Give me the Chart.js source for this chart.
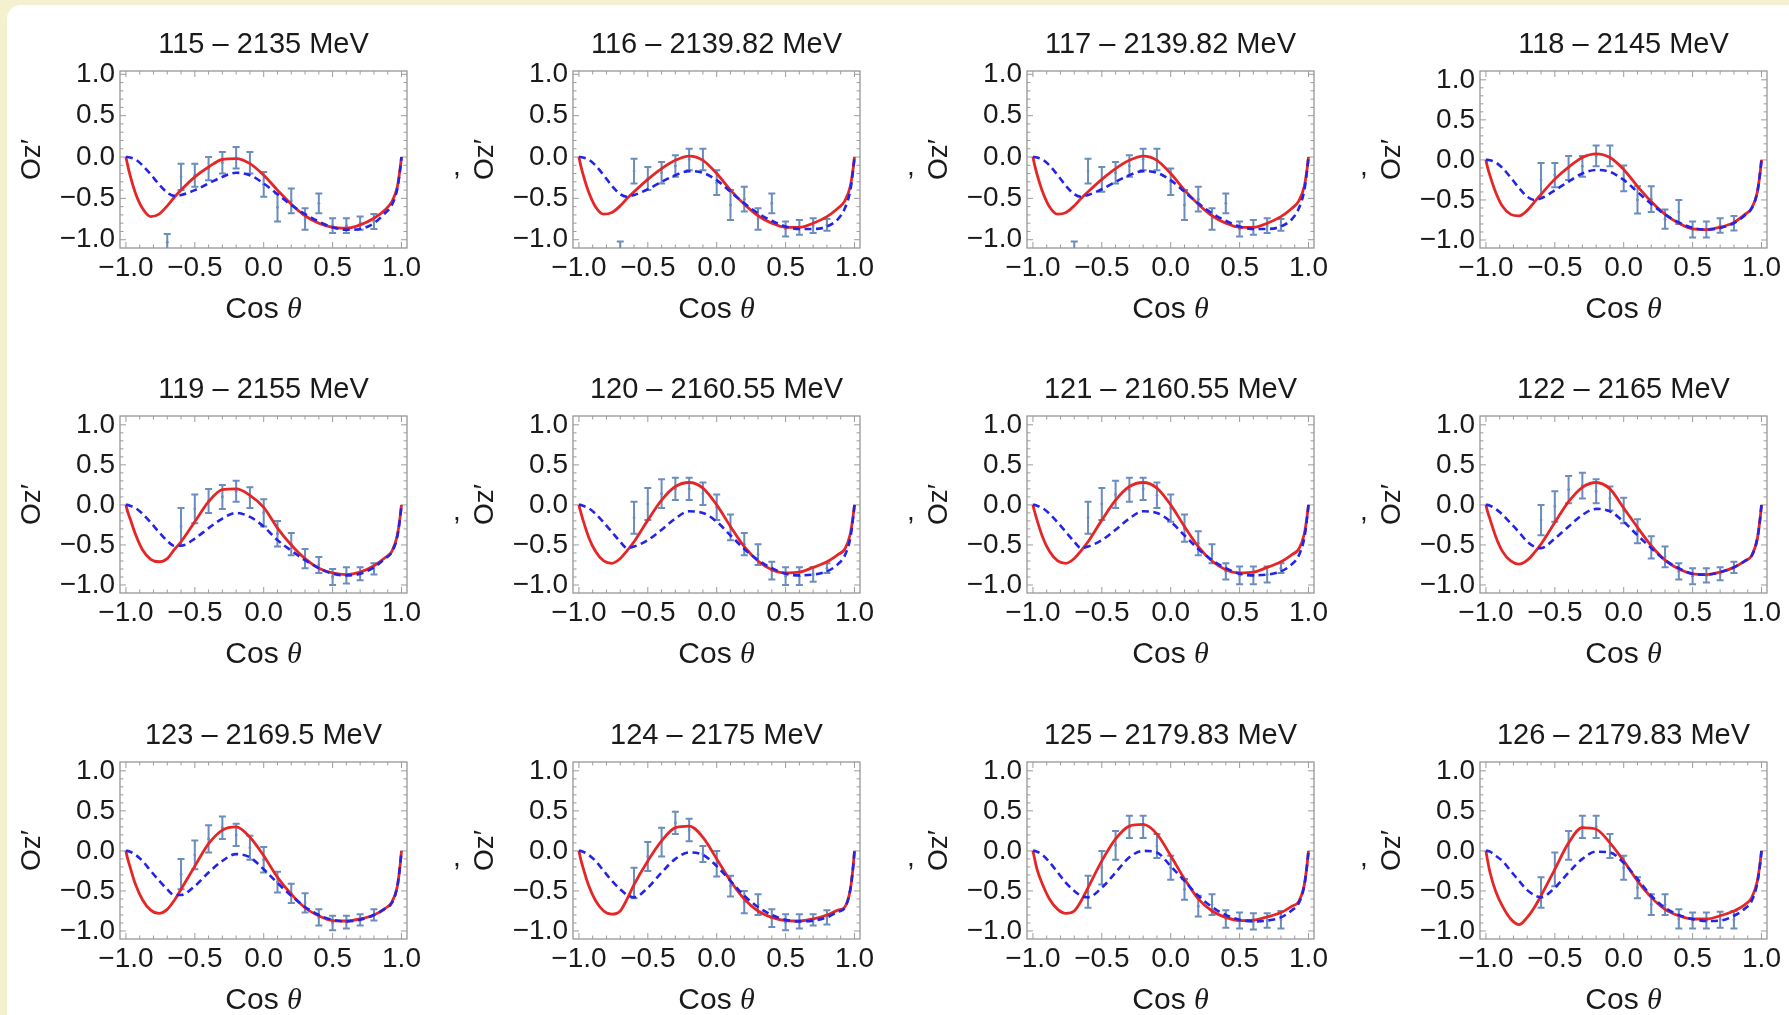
<!DOCTYPE html>
<html>
<head>
<meta charset="utf-8">
<script src="https://cdn.jsdelivr.net/npm/chart.js@4.4.1/dist/chart.umd.min.js"></script>
<style>
html, body { margin: 0; padding: 0; }
body { width: 1789px; height: 1015px; background: #f3f1cf; overflow: hidden; position: relative; }
#sheet { position: absolute; left: 7px; top: 5px; right: 0; bottom: 0; background: #fff; border-top-left-radius: 14px; }
canvas { position: absolute; }
</style>
</head>
<body>
<div id="sheet"></div>
<script>

// DATA

const titles = [
    "115 – 2135 MeV", "116 – 2139.82 MeV", "117 – 2139.82 MeV", "118 – 2145 MeV",
    "119 – 2155 MeV", "120 – 2160.55 MeV", "121 – 2160.55 MeV", "122 – 2165 MeV",
    "123 – 2169.5 MeV", "124 – 2175 MeV", "125 – 2179.83 MeV", "126 – 2179.83 MeV"
];

const tickValues = [-1, -0.5, 0, 0.5, 1];
const tickLabels = ["−1.0", "−0.5", "0.0", "0.5", "1.0"];

// top of the y range differs slightly between panels
const yMax = [1.04, 1.04, 1.04, 1.11, 1.11, 1.11, 1.11, 1.11, 1.11, 1.11, 1.11, 1.11];

// x positions where the two model curves were read
const curveX = [-1, -0.99, -0.97, -0.93, -0.88, -0.82, -0.76, -0.7, -0.65, -0.6,
    -0.5, -0.4, -0.3, -0.2, -0.1, 0, 0.1, 0.2, 0.3, 0.4,
    0.5, 0.6, 0.7, 0.8, 0.88, 0.93, 0.97, 0.99, 1];

// red solid curve
const redCurves = [
    [0, -0.08, -0.22, -0.44, -0.62, -0.72, -0.69, -0.59, -0.49, -0.40, -0.24, -0.12, -0.03, -0.02, -0.08, -0.22, -0.40, -0.57, -0.71, -0.80, -0.85, -0.86, -0.82, -0.74, -0.64, -0.54, -0.36, -0.14, 0],
    [0, -0.08, -0.21, -0.42, -0.60, -0.69, -0.67, -0.59, -0.50, -0.42, -0.27, -0.14, -0.04, 0.01, -0.04, -0.20, -0.40, -0.57, -0.71, -0.80, -0.85, -0.85, -0.80, -0.72, -0.62, -0.53, -0.35, -0.14, 0],
    [0, -0.08, -0.21, -0.42, -0.60, -0.69, -0.67, -0.59, -0.50, -0.42, -0.27, -0.14, -0.04, 0.01, -0.04, -0.20, -0.40, -0.57, -0.71, -0.80, -0.85, -0.85, -0.80, -0.72, -0.62, -0.53, -0.35, -0.14, 0],
    [0, -0.08, -0.20, -0.40, -0.58, -0.68, -0.70, -0.63, -0.53, -0.43, -0.24, -0.09, 0.03, 0.075, 0.03, -0.12, -0.33, -0.52, -0.68, -0.79, -0.86, -0.87, -0.84, -0.78, -0.68, -0.60, -0.40, -0.16, 0],
    [0, -0.07, -0.17, -0.37, -0.56, -0.68, -0.71, -0.67, -0.56, -0.46, -0.21, 0.04, 0.19, 0.20, 0.12, -0.03, -0.29, -0.50, -0.67, -0.79, -0.85, -0.87, -0.84, -0.76, -0.66, -0.58, -0.38, -0.15, 0],
    [0, -0.07, -0.19, -0.40, -0.58, -0.70, -0.73, -0.67, -0.57, -0.46, -0.19, 0.06, 0.23, 0.28, 0.21, 0.0, -0.27, -0.52, -0.70, -0.81, -0.85, -0.84, -0.78, -0.71, -0.62, -0.55, -0.36, -0.14, 0],
    [0, -0.07, -0.19, -0.40, -0.58, -0.70, -0.73, -0.67, -0.57, -0.46, -0.19, 0.06, 0.23, 0.28, 0.21, 0.0, -0.27, -0.52, -0.70, -0.81, -0.85, -0.84, -0.78, -0.71, -0.62, -0.55, -0.36, -0.14, 0],
    [0, -0.07, -0.18, -0.39, -0.58, -0.70, -0.74, -0.69, -0.60, -0.49, -0.22, 0.04, 0.22, 0.28, 0.20, -0.04, -0.28, -0.51, -0.69, -0.80, -0.86, -0.87, -0.84, -0.78, -0.70, -0.63, -0.42, -0.17, 0],
    [0, -0.08, -0.20, -0.42, -0.61, -0.74, -0.78, -0.73, -0.62, -0.48, -0.19, 0.09, 0.26, 0.30, 0.17, -0.06, -0.33, -0.54, -0.71, -0.81, -0.87, -0.875, -0.85, -0.80, -0.72, -0.64, -0.44, -0.18, 0],
    [0, -0.08, -0.21, -0.43, -0.62, -0.75, -0.79, -0.75, -0.60, -0.42, -0.125, 0.125, 0.29, 0.31, 0.17, -0.10, -0.375, -0.60, -0.75, -0.83, -0.87, -0.875, -0.85, -0.80, -0.74, -0.70, -0.48, -0.20, 0],
    [0, -0.08, -0.23, -0.42, -0.60, -0.73, -0.78, -0.75, -0.625, -0.46, -0.125, 0.15, 0.31, 0.33, 0.21, -0.06, -0.35, -0.60, -0.75, -0.83, -0.87, -0.865, -0.825, -0.77, -0.69, -0.63, -0.42, -0.17, 0],
    [0, -0.10, -0.27, -0.50, -0.69, -0.85, -0.92, -0.83, -0.71, -0.56, -0.23, 0.10, 0.29, 0.27, 0.10, -0.125, -0.375, -0.58, -0.73, -0.81, -0.85, -0.85, -0.81, -0.75, -0.67, -0.58, -0.375, -0.15, 0]
];

// blue dashed curve
const blueCurves = [
    [0, 0, -0.005, -0.03, -0.10, -0.21, -0.33, -0.43, -0.47, -0.46, -0.40, -0.32, -0.24, -0.19, -0.22, -0.32, -0.45, -0.58, -0.69, -0.78, -0.85, -0.88, -0.87, -0.80, -0.68, -0.58, -0.38, -0.15, 0],
    [0, 0, -0.005, -0.03, -0.10, -0.22, -0.35, -0.45, -0.48, -0.46, -0.39, -0.30, -0.22, -0.17, -0.19, -0.28, -0.42, -0.56, -0.68, -0.77, -0.84, -0.87, -0.87, -0.84, -0.75, -0.62, -0.40, -0.16, 0],
    [0, 0, -0.005, -0.03, -0.10, -0.22, -0.35, -0.45, -0.48, -0.46, -0.39, -0.30, -0.22, -0.17, -0.19, -0.28, -0.42, -0.56, -0.68, -0.77, -0.84, -0.87, -0.87, -0.84, -0.75, -0.62, -0.40, -0.16, 0],
    [0, 0, -0.005, -0.03, -0.10, -0.22, -0.35, -0.46, -0.50, -0.48, -0.38, -0.27, -0.17, -0.125, -0.15, -0.25, -0.40, -0.55, -0.68, -0.78, -0.85, -0.87, -0.85, -0.79, -0.69, -0.60, -0.40, -0.16, 0],
    [0, 0, -0.01, -0.04, -0.11, -0.22, -0.34, -0.45, -0.51, -0.51, -0.42, -0.29, -0.17, -0.10, -0.15, -0.27, -0.44, -0.57, -0.69, -0.79, -0.86, -0.88, -0.86, -0.78, -0.67, -0.59, -0.39, -0.16, 0],
    [0, 0, -0.01, -0.04, -0.11, -0.22, -0.34, -0.46, -0.54, -0.52, -0.44, -0.31, -0.17, -0.08, -0.10, -0.21, -0.38, -0.55, -0.69, -0.79, -0.86, -0.88, -0.87, -0.83, -0.74, -0.63, -0.41, -0.16, 0],
    [0, 0, -0.01, -0.04, -0.11, -0.22, -0.34, -0.46, -0.54, -0.52, -0.44, -0.31, -0.17, -0.08, -0.10, -0.21, -0.38, -0.55, -0.69, -0.79, -0.86, -0.88, -0.87, -0.83, -0.74, -0.63, -0.41, -0.16, 0],
    [0, 0, -0.01, -0.05, -0.12, -0.23, -0.34, -0.46, -0.52, -0.54, -0.42, -0.27, -0.125, -0.05, -0.08, -0.21, -0.38, -0.54, -0.69, -0.79, -0.86, -0.87, -0.84, -0.78, -0.70, -0.63, -0.42, -0.17, 0],
    [0, 0, -0.01, -0.05, -0.125, -0.25, -0.37, -0.48, -0.55, -0.55, -0.44, -0.27, -0.125, -0.04, -0.08, -0.23, -0.40, -0.56, -0.70, -0.80, -0.86, -0.88, -0.86, -0.80, -0.72, -0.65, -0.44, -0.18, 0],
    [0, 0, -0.01, -0.05, -0.125, -0.25, -0.375, -0.48, -0.55, -0.58, -0.46, -0.27, -0.10, -0.02, -0.05, -0.19, -0.375, -0.56, -0.70, -0.80, -0.86, -0.88, -0.87, -0.83, -0.76, -0.71, -0.48, -0.20, 0],
    [0, 0, -0.01, -0.05, -0.14, -0.27, -0.40, -0.50, -0.56, -0.58, -0.46, -0.27, -0.08, 0.0, -0.02, -0.19, -0.375, -0.56, -0.70, -0.80, -0.86, -0.88, -0.87, -0.83, -0.74, -0.65, -0.43, -0.17, 0],
    [0, 0, -0.01, -0.06, -0.125, -0.25, -0.375, -0.49, -0.55, -0.58, -0.46, -0.27, -0.10, -0.01, -0.02, -0.15, -0.35, -0.56, -0.71, -0.80, -0.85, -0.875, -0.87, -0.81, -0.72, -0.62, -0.40, -0.16, 0]
];

// measured points (null = off the plot)
const dataX = [-0.7, -0.6, -0.5, -0.4, -0.3, -0.2, -0.1, 0, 0.1, 0.2, 0.3, 0.4, 0.5, 0.6, 0.7, 0.8];

const dataY = [
    [-1.03, -0.24, -0.22, -0.14, -0.07, -0.01, -0.07, -0.33, -0.61, -0.53, -0.75, -0.56, -0.83, -0.83, -0.80, -0.78],
    [-1.12, -0.17, -0.26, -0.19, -0.11, -0.03, -0.03, -0.31, -0.58, -0.51, -0.75, -0.56, -0.87, -0.85, -0.83, -0.82],
    [-1.12, -0.17, -0.27, -0.19, -0.11, -0.03, -0.03, -0.30, -0.58, -0.51, -0.75, -0.56, -0.87, -0.85, -0.83, -0.82],
    [null, -0.25, -0.19, -0.10, -0.08, 0.05, 0.05, -0.23, -0.50, -0.49, -0.74, -0.65, -0.87, -0.87, -0.82, -0.79],
    [null, -0.27, -0.05, 0.05, 0.10, 0.17, 0.09, -0.10, -0.36, -0.49, -0.67, -0.75, -0.90, -0.88, -0.86, -0.80],
    [null, -0.16, 0.01, 0.14, 0.20, 0.20, 0.14, -0.03, -0.28, -0.49, -0.62, -0.82, -0.89, -0.89, -0.87, -0.79],
    [null, -0.16, 0.01, 0.13, 0.19, 0.20, 0.12, -0.04, -0.29, -0.48, -0.61, -0.83, -0.88, -0.88, -0.87, -0.79],
    [null, -0.19, -0.02, 0.19, 0.24, 0.17, 0.08, -0.07, -0.33, -0.53, -0.65, -0.83, -0.89, -0.88, -0.86, -0.78],
    [null, -0.29, -0.05, 0.15, 0.29, 0.20, 0.04, -0.11, -0.39, -0.53, -0.65, -0.83, -0.90, -0.89, -0.86, -0.80],
    [null, -0.40, -0.07, 0.11, 0.35, 0.26, -0.04, -0.16, -0.44, -0.64, -0.67, -0.84, -0.89, -0.88, -0.86, -0.83],
    [null, -0.51, -0.21, 0.07, 0.30, 0.30, 0.06, -0.21, -0.48, -0.69, -0.67, -0.85, -0.87, -0.88, -0.87, -0.86],
    [null, -0.52, -0.23, 0.07, 0.30, 0.30, 0.06, -0.21, -0.46, -0.67, -0.67, -0.85, -0.87, -0.87, -0.86, -0.86]
];

const dataErr = [
    [0.10, 0.16, 0.14, 0.14, 0.13, 0.13, 0.13, 0.15, 0.17, 0.15, 0.13, 0.12, 0.09, 0.09, 0.08, 0.09],
    [0.10, 0.15, 0.14, 0.13, 0.13, 0.13, 0.13, 0.15, 0.18, 0.15, 0.13, 0.12, 0.09, 0.09, 0.09, 0.07],
    [0.10, 0.15, 0.15, 0.13, 0.13, 0.13, 0.13, 0.16, 0.18, 0.15, 0.13, 0.12, 0.09, 0.09, 0.09, 0.07],
    [0, 0.21, 0.15, 0.15, 0.13, 0.13, 0.13, 0.16, 0.17, 0.16, 0.12, 0.15, 0.10, 0.10, 0.09, 0.09],
    [0, 0.23, 0.18, 0.15, 0.15, 0.13, 0.13, 0.17, 0.16, 0.14, 0.12, 0.10, 0.10, 0.10, 0.08, 0.07],
    [0, 0.20, 0.20, 0.18, 0.14, 0.14, 0.14, 0.16, 0.16, 0.14, 0.13, 0.11, 0.11, 0.11, 0.09, 0.06],
    [0, 0.20, 0.20, 0.17, 0.15, 0.14, 0.16, 0.17, 0.17, 0.15, 0.12, 0.10, 0.11, 0.11, 0.10, 0.06],
    [0, 0.19, 0.19, 0.17, 0.16, 0.15, 0.15, 0.16, 0.15, 0.14, 0.13, 0.10, 0.10, 0.09, 0.08, 0.07],
    [0, 0.19, 0.18, 0.17, 0.14, 0.14, 0.15, 0.16, 0.13, 0.12, 0.12, 0.10, 0.09, 0.08, 0.07, 0.07],
    [0, 0.19, 0.18, 0.18, 0.14, 0.14, 0.10, 0.16, 0.13, 0.14, 0.13, 0.11, 0.10, 0.09, 0.07, 0.09],
    [0, 0.20, 0.21, 0.18, 0.14, 0.14, 0.15, 0.15, 0.13, 0.13, 0.13, 0.11, 0.10, 0.10, 0.09, 0.11],
    [0, 0.19, 0.21, 0.18, 0.14, 0.14, 0.15, 0.15, 0.13, 0.13, 0.13, 0.12, 0.10, 0.10, 0.10, 0.11]
];


// LAYOUT

const frameLeft = [120, 573, 1027, 1480];
const frameTop = [71, 416, 762];
const AXIS_W = 130, TITLE_H = 68, XAXIS_H = 85, PLOT_W = 287, PLOT_H = 177, RIGHT_PAD = 25;

const INK = "#1a1a1a";
const SANS = '"Liberation Sans", Arial, sans-serif';

Chart.defaults.font.family = SANS;
Chart.defaults.color = INK;


// PLUGINS

// Mathematica style frame with inward ticks on all four sides
const framePlugin = {
    id: "mmaFrame",
    beforeDatasetsDraw(chart) {
        const { ctx, chartArea: a, scales: { x, y } } = chart;
        ctx.save();
        ctx.strokeStyle = "#8e8e8e";
        ctx.lineWidth = 1.2;
        ctx.strokeRect(a.left, a.top, a.width, a.height);
        ctx.strokeStyle = "#9c9c9c";
        ctx.lineWidth = 1;
        for (let i = -10; i <= 10; i++) {
            const len = i % 5 === 0 ? 6 : 3.5;
            const px = x.getPixelForValue(i / 10);
            const py = y.getPixelForValue(i / 10);
            ctx.beginPath();
            ctx.moveTo(px, a.bottom); ctx.lineTo(px, a.bottom - len);
            ctx.moveTo(px, a.top); ctx.lineTo(px, a.top + len);
            ctx.moveTo(a.left, py); ctx.lineTo(a.left + len, py);
            ctx.moveTo(a.right, py); ctx.lineTo(a.right - len, py);
            ctx.stroke();
        }
        ctx.restore();
    }
};

const errorBarPlugin = {
    id: "errorBars",
    beforeDatasetsDraw(chart) {
        const { ctx, chartArea: a, scales: { x, y } } = chart;
        ctx.save();
        ctx.beginPath();
        ctx.rect(a.left, a.top, a.width, a.height);
        ctx.clip();
        chart.data.datasets.forEach(ds => {
            if (!ds.errors) return;
            ctx.strokeStyle = ds.borderColor;
            ctx.lineWidth = 2;
            ds.data.forEach((p, i) => {
                const e = ds.errors[i];
                const px = x.getPixelForValue(p.x);
                const top = y.getPixelForValue(p.y + e);
                const bot = y.getPixelForValue(p.y - e);
                ctx.beginPath();
                ctx.moveTo(px, top); ctx.lineTo(px, bot);
                ctx.moveTo(px - 3.5, top); ctx.lineTo(px + 3.5, top);
                ctx.moveTo(px - 3.5, bot); ctx.lineTo(px + 3.5, bot);
                ctx.stroke();
            });
        });
        ctx.restore();
    }
};

// "Cos θ" with italic theta, and the stray comma before Oz'
const labelPlugin = {
    id: "extraLabels",
    afterDraw(chart, args, opts) {
        const { ctx, chartArea: a } = chart;
        ctx.save();
        ctx.fillStyle = INK;
        ctx.textBaseline = "middle";
        ctx.textAlign = "left";
        const cy = a.bottom + 62;
        ctx.font = "30px " + SANS;
        const w1 = ctx.measureText("Cos ").width;
        ctx.font = 'italic 30px "Liberation Serif", serif';
        const w2 = ctx.measureText("θ").width;
        const sx = (a.left + a.right) / 2 - (w1 + w2) / 2;
        ctx.font = "30px " + SANS;
        ctx.fillText("Cos ", sx, cy);
        ctx.font = 'italic 30px "Liberation Serif", serif';
        ctx.fillText("θ", sx + w1, cy);
        if (opts.comma) {
            ctx.font = "28px " + SANS;
            ctx.textBaseline = "alphabetic";
            ctx.fillText(",", a.left - 120, (a.top + a.bottom) / 2 + 15);
        }
        ctx.restore();
    }
};


// CHARTS

function xy(xs, ys) {
    const pts = [];
    xs.forEach((v, i) => { if (ys[i] !== null) pts.push({ x: v, y: ys[i] }); });
    return pts;
}

titles.forEach((title, k) => {

    const col = k % 4, row = Math.floor(k / 4);

    const canvas = document.createElement("canvas");
    canvas.width = AXIS_W + PLOT_W + RIGHT_PAD;
    canvas.height = TITLE_H + PLOT_H + XAXIS_H;
    canvas.style.left = (frameLeft[col] - AXIS_W) + "px";
    canvas.style.top = (frameTop[row] - TITLE_H) + "px";
    document.body.appendChild(canvas);

    const keep = dataY[k].map(v => v !== null);
    const points = xy(dataX, dataY[k]);
    const errs = dataErr[k].filter((e, i) => keep[i]);

    new Chart(canvas, {

        type: "scatter",

        data: {
            datasets: [
                {
                    label: "blue",
                    data: xy(curveX, blueCurves[k]),
                    showLine: true,
                    borderColor: "#2424e8",
                    borderWidth: 2.6,
                    borderDash: [7, 4.5],
                    pointRadius: 0,
                    cubicInterpolationMode: "monotone"
                },
                {
                    label: "red",
                    data: xy(curveX, redCurves[k]),
                    showLine: true,
                    borderColor: "#e62626",
                    borderWidth: 2.8,
                    pointRadius: 0,
                    cubicInterpolationMode: "monotone"
                },
                {
                    label: "data",
                    data: points,
                    errors: errs,
                    borderColor: "#6a8dbd",
                    backgroundColor: "#6a8dbd",
                    pointRadius: 1.4,
                    pointBorderWidth: 0
                }
            ]
        },

        options: {
            responsive: false,
            animation: false,
            events: [],
            layout: { padding: { left: 0, right: RIGHT_PAD, top: 0, bottom: 0 } },

            plugins: {
                legend: { display: false },
                tooltip: { enabled: false },
                title: {
                    display: true,
                    text: title,
                    fullSize: false,
                    color: INK,
                    font: { size: 29, weight: "normal" },
                    padding: { top: 24.6, bottom: 8.6 }
                },
                extraLabels: { comma: col > 0 }
            },

            scales: {
                x: {
                    type: "linear",
                    min: -1.043,
                    max: 1.04,
                    grid: { display: false, drawTicks: false },
                    border: { display: false },
                    afterBuildTicks: s => { s.ticks = tickValues.map(v => ({ value: v })); },
                    afterFit: s => { s.height = XAXIS_H; s.paddingLeft = 0; s.paddingRight = 0; },
                    ticks: {
                        font: { size: 28 },
                        color: INK,
                        padding: 3,
                        maxRotation: 0,
                        autoSkip: false,
                        callback: (v, i) => tickLabels[tickValues.indexOf(v)]
                    }
                },
                y: {
                    type: "linear",
                    min: -1.1,
                    max: yMax[k],
                    grid: { display: false, drawTicks: false },
                    border: { display: false },
                    afterBuildTicks: s => { s.ticks = tickValues.map(v => ({ value: v })); },
                    afterFit: s => { s.width = AXIS_W; s.paddingTop = 0; s.paddingBottom = 0; },
                    ticks: {
                        font: { size: 28 },
                        color: INK,
                        padding: 5,
                        autoSkip: false,
                        callback: (v, i) => tickLabels[tickValues.indexOf(v)]
                    },
                    title: {
                        display: true,
                        text: "Oz′",
                        color: INK,
                        font: { size: 28 },
                        padding: { top: 25.2, bottom: 0 }
                    }
                }
            }
        },

        plugins: [framePlugin, errorBarPlugin, labelPlugin]

    });

});

</script>
</body>
</html>
